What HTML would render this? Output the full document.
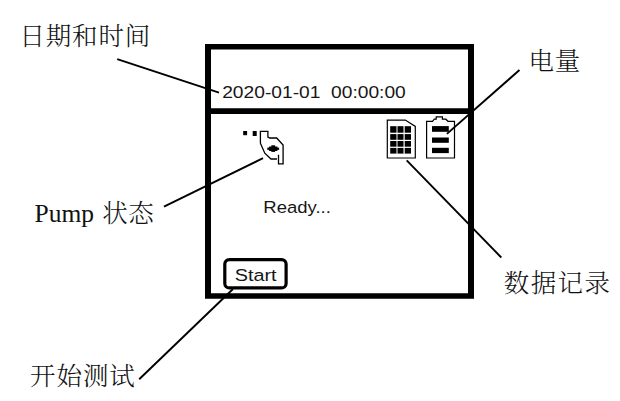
<!DOCTYPE html>
<html><head><meta charset="utf-8">
<style>
html,body{margin:0;padding:0;background:#fff;}
body{width:620px;height:401px;overflow:hidden;position:relative;}
svg{position:absolute;left:0;top:0;display:block;}
.cjk{font-family:"Liberation Serif","Noto Serif CJK SC",serif;font-size:25.5px;font-weight:300;letter-spacing:0.6px;fill:#111;}
.ui{font-family:"Liberation Sans","DejaVu Sans",sans-serif;font-size:17.6px;fill:#161616;white-space:pre;}
.ui2{font-family:"DejaVu Sans","Liberation Sans",sans-serif;font-size:16px;fill:#161616;}
</style></head>
<body>
<svg width="620" height="401" viewBox="0 0 620 401">
<rect width="620" height="401" fill="#fff"/>
<!-- frame -->
<path fill="#000" fill-rule="evenodd" d="M205 44 H474 V298.7 H205 Z M211 49.4 H468 V108.2 H211 Z M211 113.9 H468 V293.2 H211 Z"/>
<!-- pump icon -->
<g fill="#000">
<rect x="243.2" y="131" width="3.9" height="4.2"/>
<rect x="252.7" y="131" width="4" height="5"/>
<rect x="267.3" y="147.6" width="11.8" height="2.3"/><rect x="269.1" y="146.5" width="8.3" height="4.5"/><rect x="271.3" y="145.3" width="3.8" height="6.6"/>
</g>
<path d="M260.4 143.2 L260.4 131.4 L267.9 131.4 L267.9 137 L269.8 138 L276.7 138 L283.1 145.1 L283.1 163.8 L278.5 163.8 L278.5 154.7 M260.4 143.2 L264.8 153.2 L271 159 L277 159" fill="none" stroke="#000" stroke-width="1.3"/>
<!-- doc icon -->
<path d="M387.3 120.1 L405.3 120.1 L415.3 126.4 L415.3 158 L387.3 158 Z" fill="#fff" stroke="#000" stroke-width="1.2"/>
<g fill="#000">
<rect x="390.2" y="126.2" width="6.3" height="6.5"/><rect x="397.5" y="126.2" width="6.0" height="6.5"/><rect x="404.7" y="126.2" width="6.3" height="6.5"/>
<rect x="390.2" y="134.1" width="6.3" height="5.7"/><rect x="397.5" y="134.1" width="6.0" height="5.7"/><rect x="404.7" y="134.1" width="6.3" height="5.7"/>
<rect x="390.2" y="141.0" width="6.3" height="5.7"/><rect x="397.5" y="141.0" width="6.0" height="5.7"/><rect x="404.7" y="141.0" width="6.3" height="5.7"/>
<rect x="390.2" y="147.9" width="6.3" height="5.7"/><rect x="397.5" y="147.9" width="6.0" height="5.7"/><rect x="404.7" y="147.9" width="6.3" height="5.7"/>
</g>
<!-- battery icon -->
<path d="M426.6 158 L426.6 121.3 L432.5 121.3 L434.3 119.2 L436.2 119.2 L436.2 116.8 L442.4 116.8 L442.4 119.2 L445.8 119.2 L448 121.3 L454.5 121.3 L454.5 158 Z" fill="#fff" stroke="#000" stroke-width="1.2"/>
<g fill="#000">
<rect x="432" y="126.1" width="16.8" height="5.7"/>
<rect x="432" y="137.5" width="16.8" height="5.3"/>
<rect x="432" y="147.8" width="16.8" height="5.3"/>
</g>
<!-- start button -->
<rect x="224.8" y="259.6" width="61.3" height="28.3" rx="4.5" ry="4.5" fill="#fff" stroke="#000" stroke-width="3.2"/>
<!-- leader lines -->
<g stroke="#000" stroke-width="1.9" stroke-linecap="butt" fill="none">
<line x1="117.2" y1="59.1" x2="219" y2="92.6"/>
<line x1="164" y1="206.6" x2="263" y2="158.2"/>
<line x1="139.2" y1="379.2" x2="233" y2="289"/>
<line x1="519.5" y1="70" x2="446.9" y2="133.9"/>
<line x1="406.7" y1="160.4" x2="501.3" y2="257.5"/>
</g>
<!-- ui text -->
<text class="ui" style="font-size:17.3px" transform="translate(222.2,98) scale(1.11,1)" xml:space="preserve">2020-01-01  00:00:00</text>
<text class="ui" style="font-size:17px" transform="translate(263.3,212.7) scale(1.09,1)">Ready...</text>
<text class="ui" style="font-size:17px" transform="translate(234.8,280.6) scale(1.165,1)">Start</text>
<!-- labels -->
<text class="cjk" x="19.4" y="45" style="letter-spacing:0.85px">日期和时间</text>
<text class="cjk" x="34.5" y="222"><tspan style="letter-spacing:0px">Pump </tspan><tspan x="102.2">状态</tspan></text>
<text class="cjk" x="30" y="384.6" style="letter-spacing:0.95px">开始测试</text>
<text class="cjk" x="528.5" y="69.9" style="letter-spacing:0.8px">电量</text>
<text class="cjk" x="503.7" y="292" style="letter-spacing:1.45px">数据记录</text>
</svg>
</body></html>
